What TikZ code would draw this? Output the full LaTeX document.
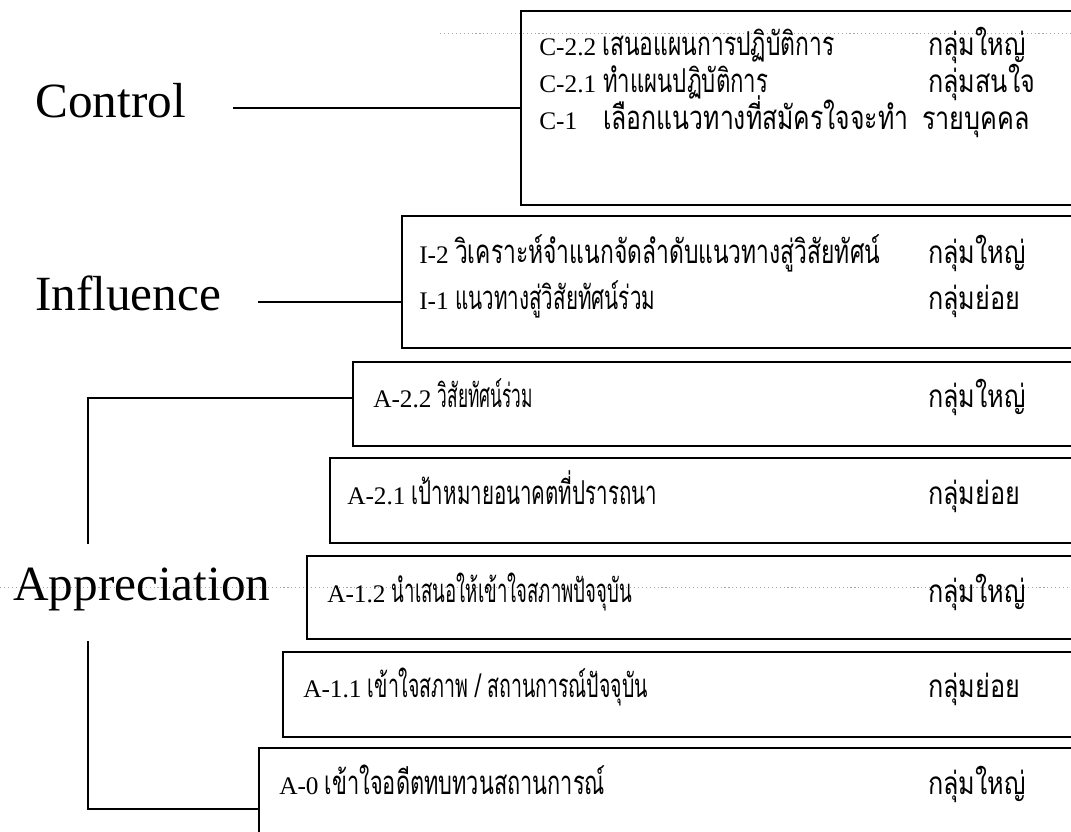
\documentclass[tikz,border=0pt]{standalone}
\usepackage{fontspec}
\usepackage{graphicx}
\setmainfont{Liberation Serif}
\newfontfamily\thaifont[Script=Thai,Scale=1.3]{Loma}
\newfontfamily\groupfont[Script=Thai,Scale=1.4,FakeStretch=0.8]{Loma}
\usetikzlibrary{fit}
% Thai text squeezed to a width given in pixels of the figure
\newcommand{\thw}[2]{\resizebox{\dimexpr0.025cm*#1\relax}{\height}{\thaifont #2}}

\begin{document}
\begin{tikzpicture}[
        x=0.025cm, y=-0.025cm,
        panel/.style={draw, line width=1.3pt, inner sep=0pt, fit={#1}},
        level/.style={font=\fontsize{35}{40}\selectfont, anchor=base west, inner sep=0pt},
        item/.style={font=\fontsize{18}{21}\selectfont, anchor=base west, inner sep=0pt},
        group/.style={font=\fontsize{16}{19}\selectfont\groupfont, anchor=base west, inner sep=0pt},
        link/.style={line width=1.3pt},
        scan/.style={gray!70, line width=0.5pt, dash pattern=on 0.8pt off 2pt}
    ]
        % --- Page frame (boxes run past the right edge) ---
        \useasboundingbox (0,0) rectangle (1071,831);
        \clip (0,0) rectangle (1071,831);
        \def\edge{1100} % right end of every box
        \def\gx{928}    % left end of the group column

        % --- Dotted marks of the scan ---
        \draw[scan] (440,33) -- (1071,33);
        \draw[scan] (0,587) -- (1071,587);

        % --- Boxes ---
        \node[panel={(521,11) (\edge,205)}] (boxC) {};
        \node[panel={(402,216) (\edge,348)}] (boxI) {};
        \node[panel={(353,362) (\edge,446)}] (boxA22) {};
        \node[panel={(330,458) (\edge,543)}] (boxA21) {};
        \node[panel={(307,556) (\edge,639)}] (boxA12) {};
        \node[panel={(283,652) (\edge,737)}] (boxA11) {};
        \node[panel={(259,748) (\edge,860)}] (boxA0) {};

        % --- Level labels ---
        \node[level] (lblC) at (35,117) {Control};
        \node[level] (lblI) at (35,310) {Influence};
        \node[level] (lblA) at (13,600) {Appreciation};

        % --- Connectors ---
        \coordinate (endC) at (233,108);
        \draw[link] (endC) -- (endC -| boxC.west);
        \coordinate (endI) at (258,302);
        \draw[link] (endI) -- (endI -| boxI.west);
        % bracket of Appreciation
        \coordinate (armT) at (88,544);
        \coordinate (armB) at (88,641);
        \coordinate (rowA22) at (0,398);
        \coordinate (rowA0) at (0,809);
        \draw[link] (armT) |- (rowA22 -| boxA22.west);
        \draw[link] (armB) |- (rowA0 -| boxA0.west);

        % --- Control ---
        \node[item] (tC22) at (539,55) {C-2.2 \thw{232}{เสนอแผนการปฏิบัติการ}};
        \node[group] (gC22) at (\gx,55) {กลุ่มใหญ่};
        \node[item] (tC21) at (539,92) {\makebox[1.6cm][l]{C-2.1}\thw{165}{ทำแผนปฏิบัติการ}};
        \node[group] (gC21) at (\gx,92) {กลุ่มสนใจ};
        \node[item] (tC1) at (539,129) {\makebox[1.6cm][l]{C-1}\thw{305}{เลือกแนวทางที่สมัครใจจะทำ}};
        \node[group] (gC1) at (\gx-6,129) {รายบุคคล};

        % --- Influence ---
        \node[item] (tI2) at (419,263) {I-2 \thw{425}{วิเคราะห์จำแนกจัดลำดับแนวทางสู่วิสัยทัศน์}};
        \node[group] (gI2) at (\gx,263) {กลุ่มใหญ่};
        \node[item] (tI1) at (419,309) {I-1 \thw{200}{แนวทางสู่วิสัยทัศน์ร่วม}};
        \node[group] (gI1) at (\gx,309) {กลุ่มย่อย};

        % --- Appreciation ---
        \node[item] (tA22) at (373,407) {A-2.2 \thw{95}{วิสัยทัศน์ร่วม}};
        \node[group] (gA22) at (\gx,407) {กลุ่มใหญ่};
        \node[item] (tA21) at (347,504) {A-2.1 \thw{245}{เป้าหมายอนาคตที่ปรารถนา}};
        \node[group] (gA21) at (\gx,504) {กลุ่มย่อย};
        \node[item] (tA12) at (327,602) {A-1.2 \thw{240}{นำเสนอให้เข้าใจสภาพปัจจุบัน}};
        \node[group] (gA12) at (\gx,602) {กลุ่มใหญ่};
        \node[item] (tA11) at (303,697) {A-1.1 \thw{280}{เข้าใจสภาพ / สถานการณ์ปัจจุบัน}};
        \node[group] (gA11) at (\gx,697) {กลุ่มย่อย};
        \node[item] (tA0) at (279,794) {A-0 \thw{280}{เข้าใจอดีตทบทวนสถานการณ์}};
        \node[group] (gA0) at (\gx,794) {กลุ่มใหญ่};

    \end{tikzpicture}
\end{document}
